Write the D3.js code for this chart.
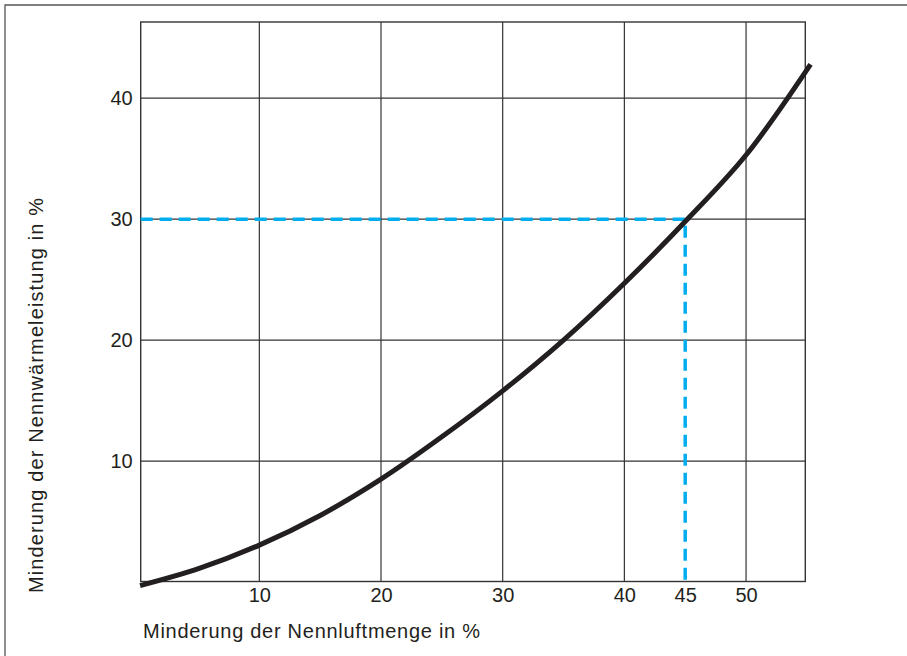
<!DOCTYPE html>
<html lang="de">
	<head>
		<meta charset="utf-8">
		<title>Minderung der Nennwärmeleistung</title>
		<script type="text/javascript" src="https://cdn.jsdelivr.net/npm/d3@7"></script>
		<style type="text/css">
			body {
				margin: 0;
				background: #fff;
				font-family: "Liberation Sans", Arial, Helvetica, sans-serif;
			}
			.tick text { font-size: 20px; fill: #231f20; }
		</style>
	</head>
	<body>
		<script type="text/javascript">

			// Daten
			var luftmenge  = [0.2, 5, 10, 15, 20, 25, 30, 35, 40, 45, 50, 55.3];
			var waerme     = [-0.3, 1.1, 3.05, 5.5, 8.5, 12.0, 15.8, 20.0, 24.7, 29.8, 35.3, 42.8];
			var xTicks     = [10, 20, 30, 40, 45, 50];
			var xGrid      = [10, 20, 30, 40, 50];
			var yTicks     = [10, 20, 30, 40];
			var markPoint  = [45, 30];

			var w = 907;
			var h = 656;
			// plot area (top is a reserved global, so pl/pr/pt/pb)
			var pl = 140.7, pr = 805.3, pt = 22, pb = 581.5;

			var xScale = d3.scaleLinear()
							.domain([0.25, 54.87])
							.range([pl, pr]);

			var yScale = d3.scaleLinear()
							.domain([0.04, 46.3])
							.range([pb, pt]);

			var svg = d3.select("body")
						.append("svg")
						.attr("width", w)
						.attr("height", h);

			// Rahmen (nur oben/links sichtbar)
			svg.append("path")
			   .attr("d", "M5,660 V5 H910")
			   .attr("fill", "none")
			   .attr("stroke", "#555")
			   .attr("stroke-width", 1.3);

			// Gitter
			svg.selectAll("line.xgrid")
			   .data(xGrid)
			   .enter()
			   .append("line")
			   .attr("class", "xgrid")
			   .attr("x1", function(d) { return xScale(d); })
			   .attr("x2", function(d) { return xScale(d); })
			   .attr("y1", pt)
			   .attr("y2", pb)
			   .attr("stroke", "#333")
			   .attr("stroke-width", 1.2);

			svg.selectAll("line.ygrid")
			   .data(yTicks)
			   .enter()
			   .append("line")
			   .attr("class", "ygrid")
			   .attr("x1", pl)
			   .attr("x2", pr)
			   .attr("y1", function(d) { return yScale(d); })
			   .attr("y2", function(d) { return yScale(d); })
			   .attr("stroke", "#333")
			   .attr("stroke-width", 1.2);

			svg.append("rect")
			   .attr("x", pl)
			   .attr("y", pt)
			   .attr("width", pr - pl)
			   .attr("height", pb - pt)
			   .attr("fill", "none")
			   .attr("stroke", "#333")
			   .attr("stroke-width", 1.4);

			// Achsen (nur Beschriftung)
			var xAxis = svg.append("g")
			   .attr("transform", "translate(0," + pb + ")")
			   .call(d3.axisBottom(xScale).tickValues(xTicks).tickSize(0).tickPadding(6));
			xAxis.select(".domain").remove();
			xAxis.selectAll("text").attr("font-family", null).attr("font-size", null);

			var yAxis = svg.append("g")
			   .attr("transform", "translate(" + pl + ",0)")
			   .call(d3.axisLeft(yScale).tickValues(yTicks).tickSize(0).tickPadding(8));
			yAxis.select(".domain").remove();
			yAxis.selectAll("text").attr("font-family", null).attr("font-size", null);

			// Hilfslinien bei 45 / 30
			svg.append("path")
			   .attr("d", "M" + pl + "," + yScale(markPoint[1]) +
			              " H" + xScale(markPoint[0]) +
			              " V" + pb)
			   .attr("fill", "none")
			   .attr("stroke", "#00aeef")
			   .attr("stroke-width", 3.5)
			   .attr("stroke-dasharray", "12,7");

			// Kurve
			var points = luftmenge.map(function(d, i) { return [d, waerme[i]]; });
			var line = d3.line()
						 .x(function(d) { return xScale(d[0]); })
						 .y(function(d) { return yScale(d[1]); })
						 .curve(d3.curveCatmullRom);

			svg.append("path")
			   .datum(points)
			   .attr("d", line)
			   .attr("fill", "none")
			   .attr("stroke", "#231f20")
			   .attr("stroke-width", 5);

			// Achsentitel
			svg.append("text")
			   .attr("x", 143)
			   .attr("y", 638)
			   .attr("font-size", "20px")
			   .attr("fill", "#231f20")
			   .attr("textLength", 337)
			   .attr("lengthAdjust", "spacing")
			   .text("Minderung der Nennluftmenge in %");

			svg.append("text")
			   .attr("transform", "translate(43,593) rotate(-90)")
			   .attr("font-size", "20px")
			   .attr("fill", "#231f20")
			   .attr("textLength", 395)
			   .attr("lengthAdjust", "spacing")
			   .text("Minderung der Nennwärmeleistung in %");

		</script>
	</body>
</html>
